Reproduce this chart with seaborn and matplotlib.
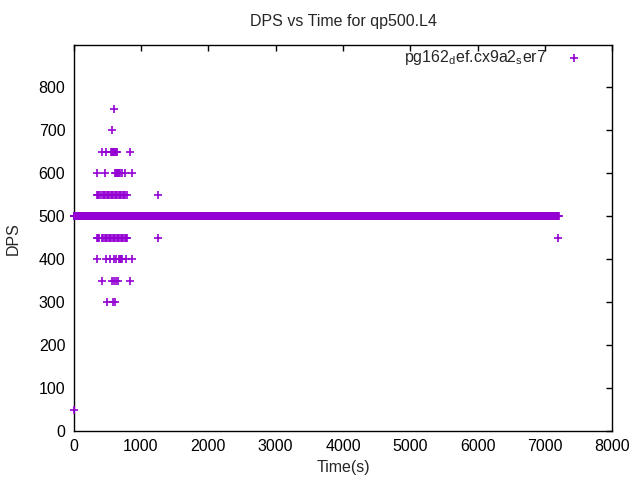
import numpy as np
import pandas as pd
import matplotlib
matplotlib.use('Agg')
import matplotlib.pyplot as plt
import seaborn as sns

# steady part of the run: DPS sits at 500 from start to ~7200 s
base_start, base_end, base_step = 0, 7200, 5
base_dps = 500

# scattered readings during warm-up (time in s, per DPS level)
t_750 = [595]
t_700 = [565]
t_650 = [415, 480, 550, 565, 580, 595, 610, 625, 640, 835]
t_600 = [340, 460, 615, 630, 645, 660, 675, 690, 720, 770, 865]
t_550 = [350, 365, 380, 410, 430, 450, 470, 490, 510, 530, 550, 570, 590,
         610, 630, 650, 670, 690, 710, 730, 750, 770, 790, 1250]
t_450 = [350, 365, 380, 420, 440, 460, 480, 500, 520, 540, 560, 580, 600,
         620, 640, 660, 680, 700, 720, 740, 760, 780, 795, 1250, 7195]
t_400 = [350, 485, 545, 595, 630, 670, 685, 700, 720, 780, 865]
t_350 = [415, 570, 605, 630, 660, 835]
t_300 = [500, 580, 620]
t_50 = [0]

series_label = r'pg162$_\mathregular{d}$ef.cx9a2$_\mathregular{s}$er7'

base_t = np.arange(base_start, base_end + base_step, base_step)
times = list(base_t)
dps = [base_dps] * len(base_t)
for level, ts in [(750, t_750), (700, t_700), (650, t_650), (600, t_600),
                  (550, t_550), (450, t_450), (400, t_400), (350, t_350),
                  (300, t_300), (50, t_50)]:
    times += ts
    dps += [level] * len(ts)
df = pd.DataFrame({'Time': times, 'DPS': dps})

sns.set_style('white')
plt.rcParams['font.family'] = ['Liberation Sans', 'DejaVu Sans']
plt.rcParams['mathtext.fontset'] = 'custom'
plt.rcParams['mathtext.rm'] = 'Liberation Sans'

fs = 11.5
fig = plt.figure(figsize=(6.4, 4.8), dpi=100)
ax = fig.add_axes([0.115, 0.102, 0.842, 0.804])

sns.scatterplot(data=df, x='Time', y='DPS', marker='+', color='#9400d3',
                s=30, linewidth=1.2, ax=ax, label=series_label, clip_on=False,
                zorder=3)

ax.set_xlim(0, 8000)
ax.set_ylim(0, 898)
ax.set_xticks(range(0, 8001, 1000))
ax.set_yticks(range(0, 801, 100))
ax.tick_params(direction='in', length=4, width=1, top=True, right=True,
               labelsize=fs, colors='black', pad=6)
for sp in ax.spines.values():
    sp.set_color('black')
    sp.set_linewidth(1)

ax.set_title('DPS vs Time for qp500.L4', fontsize=fs, pad=14)
ax.set_xlabel('Time(s)', fontsize=fs, labelpad=4)
ax.set_ylabel('DPS', fontsize=fs, labelpad=13)

leg = ax.legend(loc='upper right', bbox_to_anchor=(0.973, 1.009),
                frameon=False, markerfirst=False, fontsize=fs,
                handlelength=2.2, handletextpad=0.6, borderaxespad=0)

fig.savefig('out.png', dpi=100)
